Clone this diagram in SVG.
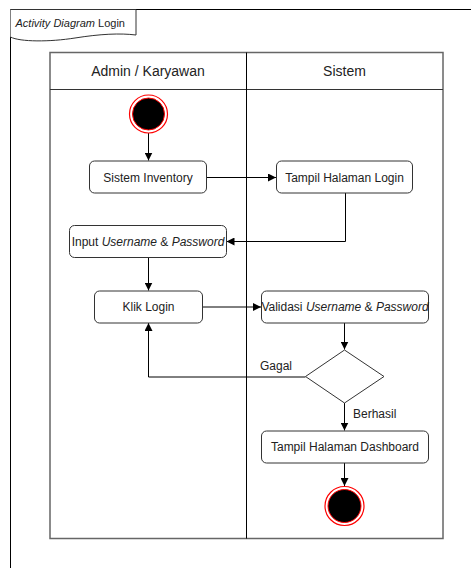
<svg xmlns="http://www.w3.org/2000/svg" width="471" height="568" viewBox="0 0 471 568">
  <style>
    text { font-family: "Liberation Sans", Arial, sans-serif; fill: #222; }
    .lbl { font-size: 12px; text-anchor: middle; }
    .hdr { font-size: 14px; text-anchor: middle; }
    .act { fill: #fff; stroke: #333; stroke-width: 1; }
    .edge { fill: none; stroke: #000; stroke-width: 1; }
    .ring { fill: none; stroke: #ff0000; stroke-width: 1.2; }
    .dot { fill: #000; stroke: #ff0000; stroke-width: 1; }
  </style>
  <defs>
    <marker id="arrow" viewBox="0 0 10 10" refX="10" refY="5" markerWidth="8" markerHeight="8" markerUnits="userSpaceOnUse" orient="auto">
      <path d="M0,0 L10,5 L0,10 Z" fill="#000"/>
    </marker>
  </defs>

  <rect width="471" height="568" fill="#fff"/>

  <!-- outer frame -->
  <g id="frame">
    <path d="M10.5,568 V9.5 H471" fill="none" stroke="#000" stroke-width="1"/>
    <path d="M10.5,9.5 H136 V35 C120,33 100,34 75,38 C50,42 20,42 10.5,37" fill="#fff" stroke="#333" stroke-width="1"/>
    <text x="15.5" y="26.5" font-size="11px"><tspan font-style="italic">Activity Diagram</tspan> Login</text>
  </g>

  <!-- swimlanes -->
  <g id="pool">
    <rect x="50" y="52.5" width="393" height="486" fill="#fff" stroke="#666" stroke-width="1.5"/>
    <line x1="50" y1="89.5" x2="443" y2="89.5" stroke="#333" stroke-width="1"/>
    <line x1="246.5" y1="52.5" x2="246.5" y2="538.5" stroke="#000" stroke-width="1"/>
    <text class="hdr" x="148" y="76">Admin / Karyawan</text>
    <text class="hdr" x="344.5" y="76">Sistem</text>
  </g>

  <!-- connectors -->
  <g id="edges">
    <path class="edge" d="M148.5,133 V160.5" marker-end="url(#arrow)"/>
    <path class="edge" d="M207,177.5 H276" marker-end="url(#arrow)"/>
    <path class="edge" d="M345.5,193 V241.5 H226.5" marker-end="url(#arrow)"/>
    <path class="edge" d="M148.5,257 V290.5" marker-end="url(#arrow)"/>
    <path class="edge" d="M203,307 H261" marker-end="url(#arrow)"/>
    <path class="edge" d="M344.5,323 V349.5" marker-end="url(#arrow)"/>
    <path class="edge" d="M305.5,377 H148.5 V323" marker-end="url(#arrow)"/>
    <path class="edge" d="M344.5,403 V430.5" marker-end="url(#arrow)"/>
    <path class="edge" d="M344.5,463 V486" marker-end="url(#arrow)"/>
    <text class="lbl" x="276" y="370">Gagal</text>
    <text x="353" y="418" font-size="12px">Berhasil</text>
  </g>

  <!-- nodes -->
  <g id="start">
    <circle class="ring" cx="148.5" cy="114" r="19"/>
    <circle class="dot" cx="148.5" cy="114" r="16"/>
  </g>

  <g id="sistem-inventory">
    <rect class="act" x="89.5" y="161" width="117" height="32" rx="5"/>
    <text class="lbl" x="148" y="181.5">Sistem Inventory</text>
  </g>

  <g id="tampil-login">
    <rect class="act" x="276.5" y="161" width="136" height="32" rx="5"/>
    <text class="lbl" x="344.5" y="181.5">Tampil Halaman Login</text>
  </g>

  <g id="input-credentials">
    <rect class="act" x="69.5" y="225.5" width="157" height="32" rx="5"/>
    <text class="lbl" x="148" y="245.5">Input <tspan font-style="italic">Username</tspan> &amp; <tspan font-style="italic">Password</tspan></text>
  </g>

  <g id="klik-login">
    <rect class="act" x="94.5" y="291" width="108" height="32" rx="5"/>
    <text class="lbl" x="148.5" y="311">Klik Login</text>
  </g>

  <g id="validasi">
    <rect class="act" x="261.5" y="291" width="167" height="32" rx="5"/>
    <text class="lbl" x="345" y="311">Validasi <tspan font-style="italic">Username</tspan> &amp; <tspan font-style="italic">Password</tspan></text>
  </g>

  <g id="decision">
    <path d="M344.5,350 L384,376.5 L344.5,403 L305.5,376.5 Z" fill="#fff" stroke="#333" stroke-width="1"/>
  </g>

  <g id="tampil-dashboard">
    <rect class="act" x="261.5" y="431" width="167" height="32" rx="5"/>
    <text class="lbl" x="345" y="451">Tampil Halaman Dashboard</text>
  </g>

  <g id="end">
    <circle class="ring" cx="344.5" cy="506" r="19.5"/>
    <circle class="dot" cx="344.5" cy="506" r="16.5"/>
  </g>
</svg>
